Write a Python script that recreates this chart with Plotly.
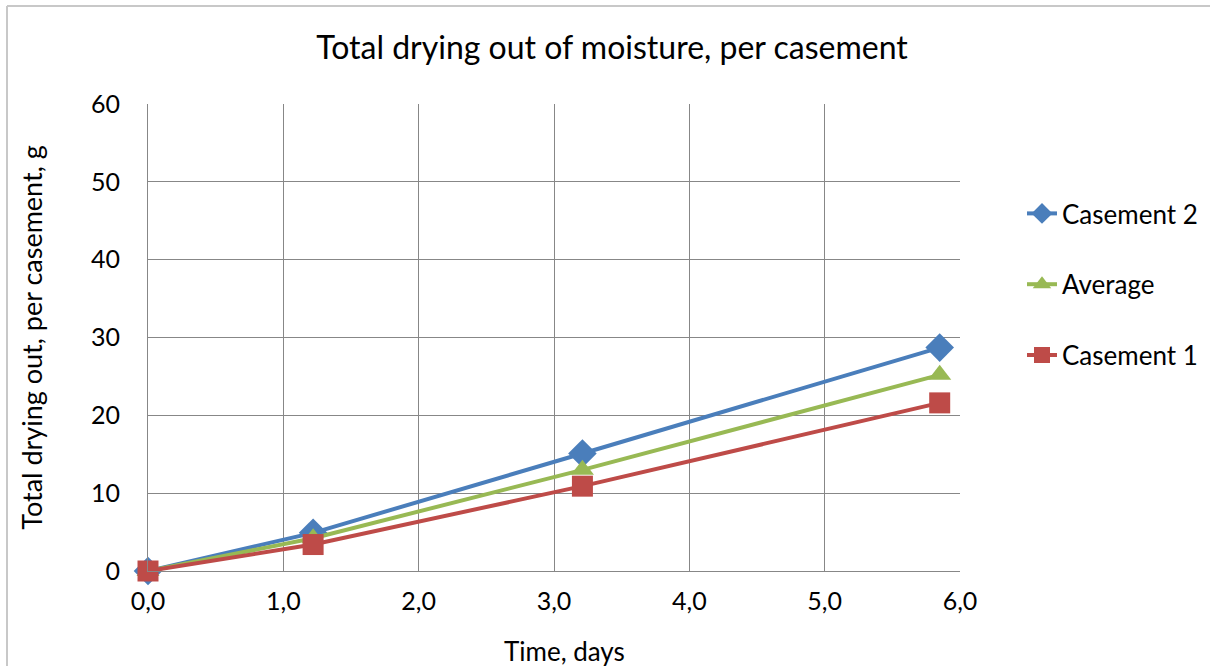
import plotly.graph_objects as go

# Drying-out measurements over time
time_days = [0.0, 1.22, 3.21, 5.85]
casement_2 = [0.0, 4.9, 15.1, 28.7]
average = [0.0, 4.2, 13.0, 25.2]
casement_1 = [0.0, 3.4, 10.9, 21.6]

FONT = "Lato"
GRID = "#878787"
PLOT_W, PLOT_H = 812, 467
LEFT, TOP = 148, 104

fig = go.Figure()

series = [
    ("Casement 2", casement_2, "#4A7EBB", "diamond", 22),
    ("Average", average, "#98B954", "triangle-up", 20),
    ("Casement 1", casement_1, "#BE4B48", "square", 21),
]
for i, (name, vals, color, symbol, size) in enumerate(series):
    fig.add_trace(go.Scatter(
        x=time_days, y=vals, name=name, mode="lines+markers",
        line=dict(color=color, width=4),
        marker=dict(symbol=symbol, size=size, color=color),
        legendgroup=f"g{i}", cliponaxis=False,
    ))


def px_x(p):
    return (p - LEFT) / PLOT_W


def px_y(p):
    return (TOP + PLOT_H - p) / PLOT_H


fig.update_layout(
    width=1210, height=666,
    margin=dict(l=LEFT, r=1210 - LEFT - PLOT_W, t=TOP, b=666 - TOP - PLOT_H,
                autoexpand=False),
    paper_bgcolor="white", plot_bgcolor="white",
    separators=", ",
    font=dict(family=FONT, color="#000000", size=24),
    title=dict(text="Total drying out of moisture, per casement",
               x=612 / 1210, xref="container", xanchor="center",
               y=1 - 48 / 666, yref="container", yanchor="middle",
               font=dict(family=FONT, size=32, color="#000000")),
    showlegend=True,
    legend=dict(x=px_x(1022), xanchor="left", y=px_y(190), yanchor="top",
                traceorder="grouped", tracegroupgap=34,
                font=dict(family=FONT, size=26, color="#000000"),
                bgcolor="rgba(0,0,0,0)"),
    annotations=[
        dict(text="Time, days", xref="paper", yref="paper",
             x=px_x(564), y=px_y(651), xanchor="center", yanchor="middle",
             showarrow=False, font=dict(family=FONT, size=26, color="#000000")),
    ],
    shapes=[
        dict(type="line", xref="paper", yref="paper",
             x0=px_x(7), x1=px_x(1210), y0=px_y(6), y1=px_y(6),
             line=dict(color="#C8C8C8", width=2)),
        dict(type="line", xref="paper", yref="paper",
             x0=px_x(7), x1=px_x(7), y0=px_y(6), y1=px_y(680),
             line=dict(color="#C8C8C8", width=2)),
    ],
)

fig.update_xaxes(
    range=[0, 6], dtick=1, tick0=0, tickformat=".1f",
    showgrid=True, gridcolor=GRID, gridwidth=1,
    showline=True, linecolor=GRID, linewidth=1, mirror=False,
    zeroline=False, ticks="", ticklabelstandoff=8, automargin=False,
    tickfont=dict(family=FONT, size=25),
)
fig.update_yaxes(
    range=[0, 60], dtick=10, tick0=0,
    showgrid=True, gridcolor=GRID, gridwidth=1,
    showline=True, linecolor=GRID, linewidth=1,
    zeroline=False, ticks="", ticklabelstandoff=22, automargin=False,
    tickfont=dict(family=FONT, size=25),
    title=dict(text="Total drying out, per casement, g",
               font=dict(family=FONT, size=27), standoff=40),
)

fig.write_html("out.html")
